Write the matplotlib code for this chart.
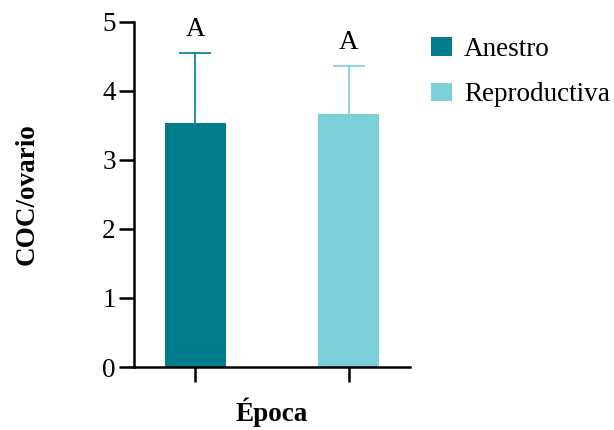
import matplotlib
matplotlib.use("Agg")
import matplotlib.pyplot as plt
from matplotlib.patches import Patch

plt.rcParams['font.family'] = ['Liberation Serif', 'DejaVu Serif']

# data
groups = ['Anestro', 'Reproductiva']
means = [3.54, 3.67]
errs_up = [1.01, 0.69]
letters = ['A', 'A']
colors = ['#007d8a', '#7bcfd9']

FS = 19.5

fig = plt.figure(figsize=(6.14, 4.30), dpi=100)
ax = fig.add_axes([0.218, 0.1465, 0.45, 0.8025])

pos = list(range(len(groups)))
for i, (m, e, c) in enumerate(zip(means, errs_up, colors)):
    ax.bar(pos[i], m, width=0.4, color=c, linewidth=0, zorder=2)
    _, caps, _ = ax.errorbar(pos[i], m, yerr=[[0], [e]], ecolor=c,
                             elinewidth=1.2, capsize=11.5, capthick=1.2,
                             fmt='none', zorder=1)
    # only the upper whisker is shown, hide the cap sitting on the bar top
    for cap in caps:
        if cap.get_ydata()[0] <= m:
            cap.set_visible(False)
    ax.text(pos[i], m + e + 0.16, letters[i], ha='center', va='bottom',
            fontsize=FS)

ax.set_xlim(-0.4, 1.4)
ax.set_ylim(0, 5)
ax.set_yticks(range(6))
ax.set_xticks(pos)
ax.set_xticklabels([])
for side in ('top', 'right'):
    ax.spines[side].set_visible(False)
for side in ('left', 'bottom'):
    ax.spines[side].set_linewidth(1.8)
ax.tick_params(axis='both', width=1.8, length=11, labelsize=FS, pad=2)

ax.set_ylabel('COC/ovario', fontsize=FS, fontweight='bold', labelpad=45)
ax.set_xlabel('Época', fontsize=FS, fontweight='bold', labelpad=9)

handles = [Patch(facecolor=c, label=g) for g, c in zip(groups, colors)]
fig.legend(handles=handles, loc='upper left', bbox_to_anchor=(0.685, 0.94),
           frameon=False, fontsize=FS, handlelength=0.75, handleheight=0.7,
           handletextpad=0.45, labelspacing=0.77, borderaxespad=0)

fig.savefig('out.png', dpi=100)
